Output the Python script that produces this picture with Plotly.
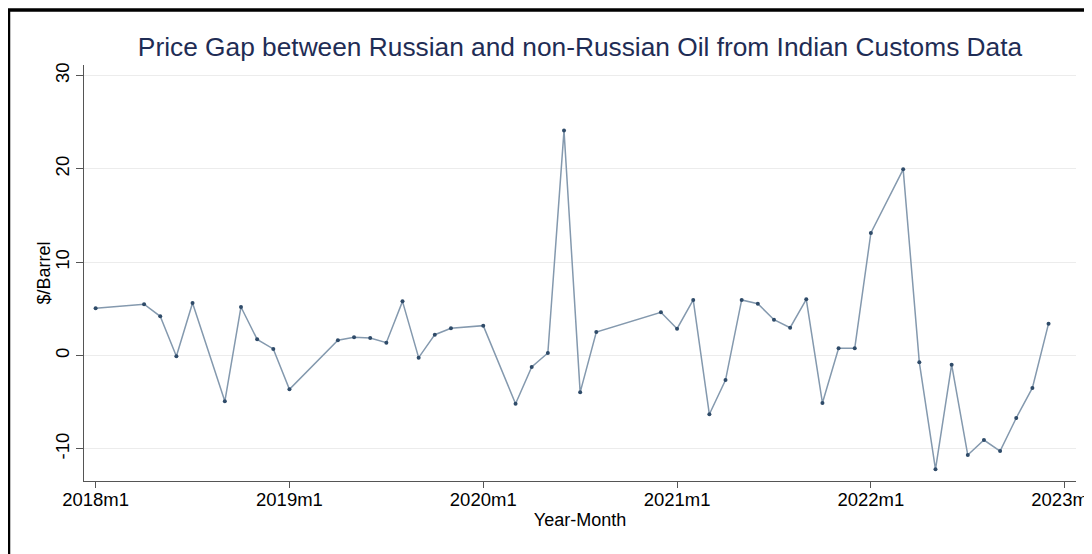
import plotly.graph_objects as go

# Year-month labels (Stata monthly format) and price gap values ($/barrel)
months = ["2018m1", "2018m4", "2018m5", "2018m6", "2018m7", "2018m9", "2018m10", "2018m11",
          "2018m12", "2019m1", "2019m4", "2019m5", "2019m6", "2019m7", "2019m8", "2019m9",
          "2019m10", "2019m11", "2020m1", "2020m3", "2020m4", "2020m5", "2020m6", "2020m7",
          "2020m8", "2020m12", "2021m1", "2021m2", "2021m3", "2021m4", "2021m5", "2021m6",
          "2021m7", "2021m8", "2021m9", "2021m10", "2021m11", "2021m12", "2022m1", "2022m3",
          "2022m4", "2022m5", "2022m6", "2022m7", "2022m8", "2022m9", "2022m10", "2022m11",
          "2022m12"]
price_gap = [5.06, 5.49, 4.2, -0.09, 5.63, -4.91, 5.2, 1.73,
             0.70, -3.63, 1.63, 1.95, 1.88, 1.37, 5.8, -0.23,
             2.23, 2.91, 3.2, -5.17, -1.23, 0.27, 24.1, -3.95,
             2.52, 4.63, 2.87, 5.95, -6.3, -2.63, 5.95, 5.55,
             3.84, 2.98, 6.02, -5.09, 0.77, 0.77, 13.13, 19.95,
             -0.73, -12.2, -0.98, -10.67, -9.06, -10.24, -6.7, -3.48,
             3.41]

x_tick_labels = ["2018m1", "2019m1", "2020m1", "2021m1", "2022m1", "2023m1"]
y_tick_vals = [-10, 0, 10, 20, 30]
y_tick_labels = ["-10", "0", "10", "20", "30"]


def month_index(label):
    y, m = label.split("m")
    return (int(y) - 2018) * 12 + int(m) - 1


x_vals = [month_index(m) for m in months]
x_ticks = [month_index(m) for m in x_tick_labels]

FONT = "Liberation Sans, Arial, Helvetica, sans-serif"

# page body has an 8px margin: figure is 1084x546 so it ends at the window edge
W, H = 1084, 546
L, T, PW, PH = 76, 57, 992, 416

fig = go.Figure()
fig.add_trace(go.Scatter(
    x=x_vals, y=price_gap, mode="lines+markers",
    line=dict(color="#8499ae", width=1.5),
    marker=dict(color="#2f4b69", size=4),
    customdata=months,
    hovertemplate="%{customdata}: %{y}<extra></extra>",
    showlegend=False,
))

fig.update_layout(
    width=W, height=H,
    margin=dict(l=L, r=W - L - PW, t=T, b=H - T - PH),
    paper_bgcolor="white", plot_bgcolor="white",
    font=dict(family=FONT, color="black"),
    title=dict(text="Price Gap between Russian and non-Russian Oil from Indian Customs Data",
               x=0.5, xref="paper", xanchor="center", y=1 - 39 / H, yanchor="middle",
               font=dict(size=26.3, color="#1f2d55", family=FONT)),
    xaxis=dict(range=[-0.72, 60.7], tickvals=x_ticks, ticktext=x_tick_labels,
               automargin=False, ticklabeloverflow="allow", ticklabelstandoff=-4,
               showgrid=False, zeroline=False, showline=True, linecolor="#555555", linewidth=1,
               ticks="outside", ticklen=6, tickcolor="#555555",
               tickfont=dict(size=18.5, family=FONT),
               title=dict(text="Year-Month", font=dict(size=18, family=FONT), standoff=4)),
    yaxis=dict(range=[-13.45, 31.13], tickvals=y_tick_vals, ticktext=y_tick_labels,
               tickangle=-90, automargin=False,
               showgrid=True, gridcolor="#ececec", gridwidth=1, zeroline=False,
               showline=True, linecolor="#555555", linewidth=1,
               ticks="outside", ticklen=7, tickcolor="#555555",
               tickfont=dict(size=18.5, family=FONT)),
    annotations=[dict(text="$/Barrel", xref="paper", yref="paper",
                      x=(35.5 - L) / PW, y=0.5, xanchor="center", yanchor="middle",
                      textangle=-90, showarrow=False,
                      font=dict(size=18, family=FONT, color="black"))],
    shapes=[dict(type="rect", xref="paper", yref="paper",
                 x0=(0.5 - L) / PW, x1=(1100 - L) / PW,
                 y0=(T + PH - 600) / PH, y1=(T + PH - 2) / PH,
                 line=dict(color="black", width=3.5), fillcolor="rgba(0,0,0,0)",
                 layer="above")],
)

fig.write_html("out.html")
